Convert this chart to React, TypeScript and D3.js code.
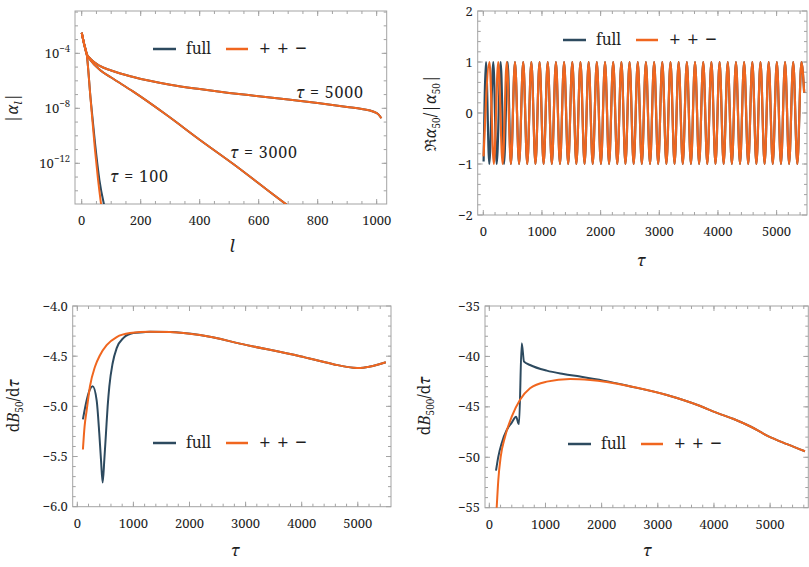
import React from 'react';
import * as d3 from 'd3';

// ---------------- data ----------------
// Panel A : |alpha_l| versus l  (values stored as log10 exponents)
const lTau5000 = [0, 8, 17, 30, 60, 100, 175, 300, 400, 500, 600, 700, 800, 900, 950, 990, 1005, 1016];
const eTau5000 = [-2.5, -3.3, -4.05, -4.4, -4.9, -5.25, -5.72, -6.28, -6.6, -6.88, -7.12, -7.36, -7.62, -7.9, -8.05, -8.25, -8.42, -8.72];
const lTau3000 = [0, 8, 17, 30, 62, 100, 175, 288, 401, 514, 627, 700];
const eTau3000 = [-2.5, -3.3, -4.05, -4.5, -5.21, -5.76, -6.79, -8.49, -10.3, -12.05, -13.9, -15.1];
const lTau100Full = [0, 8, 17, 30, 45, 60, 80];
const eTau100Full = [-2.5, -3.3, -4.05, -7.25, -10.5, -13.2, -15.4];
const lTau100Approx = [0, 8, 17, 30, 45, 55, 67];
const eTau100Approx = [-2.5, -3.3, -4.05, -7.3, -11.0, -13.1, -15.2];

// Panel B : Re(alpha50)/|alpha50| versus tau  (turning points of the oscillation)
const tauOscFull = [5, 46, 102, 170, 228, 296, 353, 415, 470];
const valOscFull = [-0.95, 1, -1, 1, -1, 1, -1, 1, -1];
const tauOscApproxEarly = [5, 105, 180, 255, 330, 400, 470];
const valOscApproxEarly = [-0.85, 1, -1, 1, -1, 1, -1];
const tauOscShared = [540, 610, 680, 749, 819, 889, 959, 1028, 1098, 1168, 1238, 1307, 1377, 1447, 1517, 1586, 1656, 1726, 1796, 1865, 1935, 2005, 2075, 2144, 2214, 2284, 2354, 2423, 2493, 2563, 2633, 2702, 2772, 2842, 2912, 2981, 3051, 3121, 3191, 3260, 3330, 3400, 3470, 3539, 3609, 3679, 3749, 3818, 3888, 3958, 4028, 4097, 4167, 4237, 4307, 4376, 4446, 4516, 4586, 4655, 4725, 4795, 4865, 4934, 5004, 5074, 5144, 5213, 5283, 5353, 5423, 5470];
const valOscShared = [1, -1, 1, -1, 1, -1, 1, -1, 1, -1, 1, -1, 1, -1, 1, -1, 1, -1, 1, -1, 1, -1, 1, -1, 1, -1, 1, -1, 1, -1, 1, -1, 1, -1, 1, -1, 1, -1, 1, -1, 1, -1, 1, -1, 1, -1, 1, -1, 1, -1, 1, -1, 1, -1, 1, -1, 1, -1, 1, -1, 1, -1, 1, -1, 1, -1, 1, -1, 1, -1, 1, 0.4];

// Panel C : dB50/dtau versus tau
const tauB50Full = [100, 167, 226, 274, 345, 392, 422, 452, 482, 511, 541, 571, 630, 702, 820, 998, 1176, 1300, 1652, 2186, 3020, 3970, 4563, 4920, 5045, 5200, 5350, 5500];
const valB50Full = [-5.13, -4.94, -4.83, -4.8, -4.94, -5.27, -5.53, -5.76, -5.53, -5.27, -5.0, -4.8, -4.57, -4.42, -4.32, -4.27, -4.262, -4.257, -4.26, -4.29, -4.39, -4.5, -4.58, -4.615, -4.618, -4.605, -4.585, -4.56];
const tauB50Approx = [100, 130, 167, 226, 315, 404, 523, 702, 939, 1296, 1652, 2186, 3020, 3970, 4563, 4920, 5045, 5200, 5350, 5500];
const valB50Approx = [-5.43, -5.2, -5.04, -4.8, -4.605, -4.49, -4.39, -4.31, -4.27, -4.256, -4.26, -4.29, -4.39, -4.5, -4.58, -4.615, -4.618, -4.605, -4.585, -4.56];

// Panel D : dB500/dtau versus tau
const tauB500Full = [119, 160, 220, 310, 399, 476, 517, 529, 577, 618, 725, 1023, 1319, 1616, 2032, 2478, 3160, 3756, 4054, 4351, 4650, 4945, 5300, 5620];
const valB500Full = [-51.33, -49.94, -48.6, -47.3, -46.57, -45.97, -46.63, -46.7, -38.7, -40.52, -40.85, -41.41, -41.74, -42.0, -42.4, -42.93, -43.83, -44.92, -45.6, -46.2, -46.95, -47.85, -48.7, -49.4];
const tauB500Approx = [100, 132, 160, 203, 280, 399, 547, 725, 1023, 1438, 1795, 2478, 3160, 3756, 4054, 4351, 4650, 4945, 5300, 5620];
const valB500Approx = [-58, -54.9, -52.25, -49.94, -47.96, -45.97, -44.3, -43.16, -42.5, -42.24, -42.34, -42.93, -43.83, -44.92, -45.6, -46.2, -46.95, -47.85, -48.7, -49.4];

// tick values
const lMajor = [0, 200, 400, 600, 800, 1000];
const expMajor = [-12, -8, -4];
const tauMajor = [0, 1000, 2000, 3000, 4000, 5000];
const reMajor = [-2, -1, 0, 1, 2];
const b50Major = [-6.0, -5.5, -5.0, -4.5, -4.0];
const b500Major = [-55, -50, -45, -40, -35];

const seriesNames = ['full', '+ + \u2212'];
const tauLabels = ['100', '3000', '5000'];

// ---------------- style ----------------
const DARK = '#2d4a5f';
const ORANGE = '#f0661f';
const FRAME = '#a3a3a3';
const TXT = '#1f1f1f';
const FONT = 'Noto Serif';

type Rect = { l: number; r: number; t: number; b: number };

const zip = (a: number[], b: number[]) => a.map((v, i) => [v, b[i]] as [number, number]);
const range = (a: number, b: number, s: number) => d3.range(a, b + s / 2, s).map((v) => +v.toFixed(6));

function Frame({ f, x, y, xMajor, xMinor, yMajor, yMinor, xFmt, yFmt }: any) {
  const M = 5, m = 3;
  const els: any[] = [];
  xMinor.forEach((v: number, i: number) => {
    const px = x(v);
    if (px < f.l + 0.5 || px > f.r - 0.5) return;
    els.push(<line key={'xm' + i} x1={px} x2={px} y1={f.b} y2={f.b - m} />);
    els.push(<line key={'xmt' + i} x1={px} x2={px} y1={f.t} y2={f.t + m} />);
  });
  xMajor.forEach((v: number, i: number) => {
    const px = x(v);
    els.push(<line key={'xM' + i} x1={px} x2={px} y1={f.b} y2={f.b - M} />);
    els.push(<line key={'xMt' + i} x1={px} x2={px} y1={f.t} y2={f.t + M} />);
  });
  yMinor.forEach((v: number, i: number) => {
    const py = y(v);
    if (py < f.t + 0.5 || py > f.b - 0.5) return;
    els.push(<line key={'ym' + i} x1={f.l} x2={f.l + m} y1={py} y2={py} />);
    els.push(<line key={'ymr' + i} x1={f.r} x2={f.r - m} y1={py} y2={py} />);
  });
  yMajor.forEach((v: number, i: number) => {
    const py = y(v);
    els.push(<line key={'yM' + i} x1={f.l} x2={f.l + M} y1={py} y2={py} />);
    els.push(<line key={'yMr' + i} x1={f.r} x2={f.r - M} y1={py} y2={py} />);
  });
  return (
    <g>
      <rect x={f.l} y={f.t} width={f.r - f.l} height={f.b - f.t} fill="white" stroke={FRAME} strokeWidth={1} />
      <g stroke={FRAME} strokeWidth={1}>{els}</g>
      <g fontFamily={FONT} fontSize={13} fill={TXT}>
        {xMajor.map((v: number, i: number) => (
          <text key={'xl' + i} x={x(v)} y={f.b + 21} textAnchor="middle">{xFmt(v)}</text>
        ))}
        {yMajor.map((v: number, i: number) => (
          <text key={'yl' + i} x={f.l - 5} y={y(v) + 4.5} textAnchor="end">{yFmt(v)}</text>
        ))}
      </g>
    </g>
  );
}

function Legend({ x, y }: { x: number; y: number }) {
  return (
    <g fontFamily={FONT} fontSize={15.5} fill={TXT}>
      <line x1={x} x2={x + 23} y1={y} y2={y} stroke={DARK} strokeWidth={2.5} />
      <text x={x + 33} y={y + 5}>{seriesNames[0]}</text>
      <line x1={x + 73} x2={x + 95} y1={y} y2={y} stroke={ORANGE} strokeWidth={2.5} />
      <text x={x + 106} y={y + 7} fontSize={21} textLength={48} lengthAdjust="spacing">{seriesNames[1]}</text>
    </g>
  );
}

const minus = (s: string) => s.replace('-', '\u2212');

export default function App() {
  // ---- panel A ----
  const fA: Rect = { l: 75, r: 386.7, t: 11, b: 204 };
  const xA = d3.scaleLinear().domain([-22.7, 1034]).range([fA.l, fA.r]);
  const yA = d3.scaleLog().domain([Math.pow(10, -14.96), Math.pow(10, -0.92)]).range([fA.b, fA.t]);
  const lineA = d3.line<[number, number]>().x((d) => xA(d[0])).y((d) => yA(Math.pow(10, d[1]))).curve(d3.curveMonotoneX);

  // ---- panel B ----
  const fB: Rect = { l: 477.7, r: 807, t: 11, b: 215 };
  const xB = d3.scaleLinear().domain([-95.5, 5518]).range([fB.l, fB.r]);
  const yB = d3.scaleLinear().domain([-2, 2]).range([fB.b, fB.t]);
  const lineB = d3.line<[number, number]>().x((d) => xB(d[0])).y((d) => yB(d[1])).curve(d3.curveMonotoneX);

  // ---- panel C ----
  const fC: Rect = { l: 72.7, r: 391, t: 306, b: 506.7 };
  const xC = d3.scaleLinear().domain([-82, 5592]).range([fC.l, fC.r]);
  const yC = d3.scaleLinear().domain([-6, -4]).range([fC.b, fC.t]);
  const lineC = d3.line<[number, number]>().x((d) => xC(d[0])).y((d) => yC(d[1])).curve(d3.curveMonotoneX);

  // ---- panel D ----
  const fD: Rect = { l: 485, r: 808.3, t: 306, b: 507.7 };
  const xD = d3.scaleLinear().domain([-77, 5680]).range([fD.l, fD.r]);
  const yD = d3.scaleLinear().domain([-55, -35]).range([fD.b, fD.t]);
  const lineD = d3.line<[number, number]>().x((d) => xD(d[0])).y((d) => yD(d[1])).curve(d3.curveMonotoneX);

  const clip = (id: string, f: Rect) => (
    <clipPath id={id}><rect x={f.l} y={f.t} width={f.r - f.l} height={f.b - f.t} /></clipPath>
  );

  const decadesA = d3.range(-15, 0, 1);
  const oscFull = zip(tauOscFull, valOscFull).concat(zip(tauOscShared, valOscShared));
  const oscApprox = zip(tauOscApproxEarly, valOscApproxEarly).concat(zip(tauOscShared, valOscShared));

  const sw = 2;
  const yLab = { fontFamily: FONT, fontSize: 15.5, fill: TXT, textAnchor: 'middle' as const };
  const xLab = { fontFamily: FONT, fontSize: 17, fontStyle: 'italic', fill: TXT, textAnchor: 'middle' as const };
  return (
    <svg width={809} height={567} style={{ position: 'absolute', left: 0, top: 0, background: 'white' }}>
      <defs>
        {clip('cA', fA)}
        {clip('cB', fB)}
        {clip('cC', fC)}
        {clip('cD', fD)}
      </defs>

      {/* ---------- Panel A ---------- */}
      <Frame f={fA} x={xA} y={(v: number) => yA(Math.pow(10, v))}
        xMajor={lMajor} xMinor={range(0, 1000, 50)} yMajor={expMajor} yMinor={decadesA}
        xFmt={(v: number) => String(v)}
        yFmt={(v: number) => (<>10<tspan dy={-6} fontSize={9.5}>{minus(String(v))}</tspan></>)} />
      <g clipPath="url(#cA)" fill="none" strokeWidth={sw}>
        <path d={lineA(zip(lTau5000, eTau5000))!} stroke={DARK} />
        <path d={lineA(zip(lTau3000, eTau3000))!} stroke={DARK} />
        <path d={lineA(zip(lTau100Full, eTau100Full))!} stroke={DARK} />
        <path d={lineA(zip(lTau5000, eTau5000))!} stroke={ORANGE} />
        <path d={lineA(zip(lTau3000, eTau3000))!} stroke={ORANGE} />
        <path d={lineA(zip(lTau100Approx, eTau100Approx))!} stroke={ORANGE} />
      </g>
      <g fontFamily={FONT} fontSize={16} fill={TXT}>
        <text x={296} y={98} textLength={67} lengthAdjust="spacing"><tspan fontStyle="italic">τ</tspan> = {tauLabels[2]}</text>
        <text x={230} y={158} textLength={67} lengthAdjust="spacing"><tspan fontStyle="italic">τ</tspan> = {tauLabels[1]}</text>
        <text x={110} y={182} textLength={58} lengthAdjust="spacing"><tspan fontStyle="italic">τ</tspan> = {tauLabels[0]}</text>
      </g>
      <Legend x={153} y={49} />
      <text x={232} y={252} {...xLab}>l</text>
      <text transform="translate(18,108) rotate(-90)" {...yLab}>
        |<tspan fontStyle="italic">α</tspan><tspan fontStyle="italic" fontSize={11} dy={4}>l</tspan><tspan dy={-4}>|</tspan>
      </text>

      {/* ---------- Panel B ---------- */}
      <Frame f={fB} x={xB} y={yB}
        xMajor={tauMajor} xMinor={range(0, 5400, 200)} yMajor={reMajor} yMinor={range(-2, 2, 0.2)}
        xFmt={(v: number) => String(v)} yFmt={(v: number) => minus(String(v))} />
      <g clipPath="url(#cB)" fill="none" strokeWidth={2.2}>
        <path d={lineB(oscFull)!} stroke={DARK} />
        <path d={lineB(oscApprox)!} stroke={ORANGE} />
      </g>
      <Legend x={563} y={40} />
      <text x={641} y={266} {...xLab}>τ</text>
      <text transform="translate(436,113) rotate(-90)" {...yLab}>
        ℜ<tspan fontStyle="italic">α</tspan><tspan fontSize={10} dy={4}>50</tspan><tspan dy={-4}>/|</tspan><tspan fontStyle="italic">α</tspan><tspan fontSize={10} dy={4}>50</tspan><tspan dy={-4}>|</tspan>
      </text>

      {/* ---------- Panel C ---------- */}
      <Frame f={fC} x={xC} y={yC}
        xMajor={tauMajor} xMinor={range(0, 5400, 200)} yMajor={b50Major} yMinor={range(-6, -4, 0.1)}
        xFmt={(v: number) => String(v)} yFmt={(v: number) => minus(v.toFixed(1))} />
      <g clipPath="url(#cC)" fill="none" strokeWidth={sw}>
        <path d={lineC(zip(tauB50Full, valB50Full))!} stroke={DARK} />
        <path d={lineC(zip(tauB50Approx, valB50Approx))!} stroke={ORANGE} />
      </g>
      <Legend x={153} y={443} />
      <text x={235} y={556} {...xLab}>τ</text>
      <text transform="translate(19,406) rotate(-90)" {...yLab}>
        d<tspan fontStyle="italic">B</tspan><tspan fontSize={10} dy={4}>50</tspan><tspan dy={-4}>/d</tspan><tspan fontStyle="italic">τ</tspan>
      </text>

      {/* ---------- Panel D ---------- */}
      <Frame f={fD} x={xD} y={yD}
        xMajor={tauMajor} xMinor={range(0, 5600, 200)} yMajor={b500Major} yMinor={range(-55, -35, 1)}
        xFmt={(v: number) => String(v)} yFmt={(v: number) => minus(String(v))} />
      <g clipPath="url(#cD)" fill="none" strokeWidth={sw}>
        <path d={lineD(zip(tauB500Full, valB500Full))!} stroke={DARK} />
        <path d={lineD(zip(tauB500Approx, valB500Approx))!} stroke={ORANGE} />
      </g>
      <Legend x={568} y={444} />
      <text x={647} y={556} {...xLab}>τ</text>
      <text transform="translate(430,406) rotate(-90)" {...yLab}>
        d<tspan fontStyle="italic">B</tspan><tspan fontSize={10} dy={4}>500</tspan><tspan dy={-4}>/d</tspan><tspan fontStyle="italic">τ</tspan>
      </text>
    </svg>
  );
}
